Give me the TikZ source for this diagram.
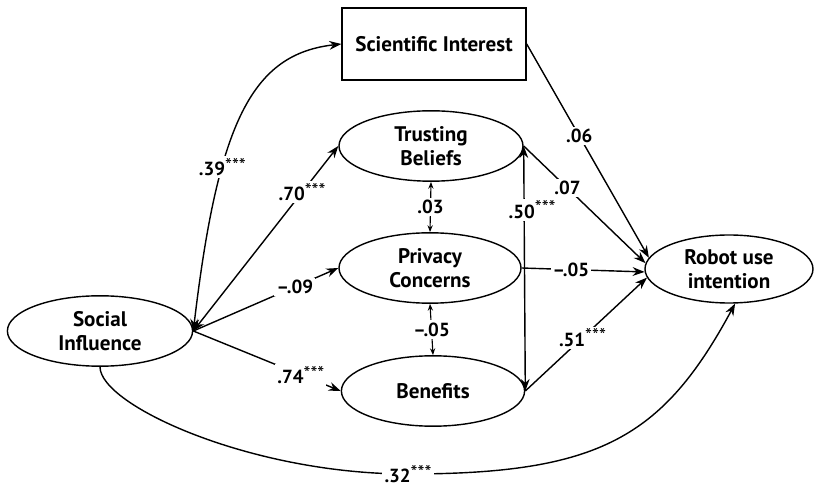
\documentclass[tikz,border=0pt]{standalone}
\usepackage{fontspec}
\setmainfont{PT Sans}
\usetikzlibrary{shapes.geometric,arrows.meta}

\newcommand{\sig}{\raisebox{0.35ex}{\fontsize{14}{14}\selectfont\mdseries ***}}

\begin{document}
\begin{tikzpicture}[
        font=\fontsize{15}{17.5}\selectfont\bfseries,
        construct/.style={draw, ellipse, line width=1pt, minimum width=4.6cm, minimum height=1.76cm, align=center, inner sep=0},
        effect/.style={line width=1pt, -{Stealth[length=3mm,width=2.2mm]}},
        twoway/.style={line width=1pt, {Stealth[length=3mm,width=2.2mm]}-{Stealth[length=3mm,width=2.2mm]}},
        covar/.style={line width=0.8pt, {Stealth[length=1.7mm,width=1.3mm]}-{Stealth[length=1.7mm,width=1.3mm]}},
        coef/.style={fill=white, inner sep=1.5pt, font=\fontsize{13.5}{15}\selectfont\bfseries}
    ]
        \useasboundingbox (0,0) rectangle (20.4,12.15);
        \node[draw, rectangle, line width=1pt, minimum width=4.6cm, minimum height=1.8cm] (sci) at (10.85, 11.05) {Scientific Interest};
        \node[construct] (trust) at (10.775, 8.5) {Trusting\\Beliefs};
        \node[construct, minimum width=4.55cm] (priv) at (10.75, 5.45) {Privacy\\Concerns};
        \node[construct, minimum width=4.58cm] (bene) at (10.825, 2.375) {Benefits};
        \node[construct, minimum width=4.63cm] (social) at (2.5, 3.875) {Social\\Influence};
        \node[construct, minimum width=4.2cm, minimum height=1.7cm] (robot) at (18.225, 5.425) {Robot use\\intention};
        \coordinate (low) at (10.2, 0.3);

        \draw[twoway] (social.east) .. controls (5.45, 9.1) and (6.3, 10.8) .. node[coef, pos=0.33] {.39\sig} (sci.west);
        \draw[twoway] (social.east) -- node[coef, pos=0.75] {.70\sig} (trust.west);
        \draw[effect] (social.east) -- node[coef, pos=0.7] {--.09} (priv.west);
        \draw[effect] (social.east) -- node[coef, pos=0.73] {.74\sig} (bene.west);

        \draw[covar] (trust.south) -- node[coef] {.03} (priv.north);
        \draw[covar] (priv.south) -- node[coef] {--.05} (bene.north);
        \draw[twoway] (trust.east) -- node[coef, pos=0.26, xshift=2mm] {.50\sig} (bene.east);

        \draw[effect] (sci.east) -- node[coef, pos=0.43] {.06} (robot.172);
        \draw[effect] (trust.east) -- node[coef, pos=0.36] {.07} (robot.176);
        \draw[effect] (priv.east) -- node[coef, pos=0.4] {--.05} (robot.182);
        \draw[effect] (bene.east) -- node[coef, pos=0.47] {.51\sig} (robot.186);

        \draw[effect] (social.south) .. controls (2.5, 2.025) and (6.25, 0.3) .. (low) node[coef] {.32\sig}
            .. controls (15, 0.3) and (16.575, 1.225) .. (robot.-80);
\end{tikzpicture}
\end{document}
